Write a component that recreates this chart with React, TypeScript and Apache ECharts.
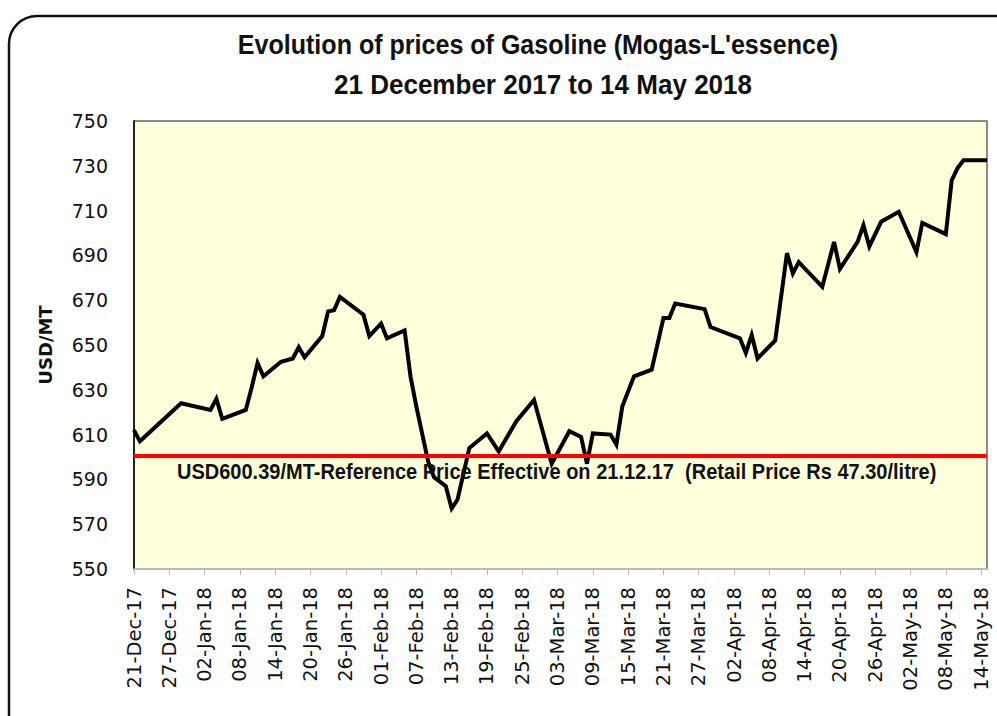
import React, { useEffect, useRef } from "react";
import * as echarts from "echarts";

const START = "2017-12-21";
const END = "2018-05-15";

const dates: string[] = [
  "2017-12-21", "2017-12-22", "2017-12-29", "2018-01-03", "2018-01-04", "2018-01-05",
  "2018-01-09", "2018-01-10", "2018-01-11", "2018-01-12", "2018-01-15", "2018-01-17",
  "2018-01-18", "2018-01-19", "2018-01-22", "2018-01-23", "2018-01-24", "2018-01-25",
  "2018-01-29", "2018-01-30", "2018-02-01", "2018-02-02", "2018-02-05", "2018-02-06",
  "2018-02-07", "2018-02-09", "2018-02-10", "2018-02-12", "2018-02-13", "2018-02-14",
  "2018-02-16", "2018-02-19", "2018-02-21", "2018-02-24", "2018-02-27", "2018-03-02",
  "2018-03-05", "2018-03-07", "2018-03-08", "2018-03-09", "2018-03-12", "2018-03-13",
  "2018-03-14", "2018-03-16", "2018-03-19", "2018-03-21", "2018-03-22", "2018-03-23",
  "2018-03-28", "2018-03-29", "2018-04-03", "2018-04-04", "2018-04-05", "2018-04-06",
  "2018-04-09", "2018-04-11", "2018-04-12", "2018-04-13", "2018-04-17", "2018-04-19",
  "2018-04-20", "2018-04-23", "2018-04-24", "2018-04-25", "2018-04-27", "2018-04-30",
  "2018-05-03", "2018-05-04", "2018-05-08", "2018-05-09", "2018-05-10", "2018-05-11",
  "2018-05-15",
];

const prices: number[] = [
  612, 607, 624, 621, 626, 617,
  621, 631, 642, 636, 642.5, 644,
  649, 644.5, 654, 665, 665.5, 671.5,
  663.5, 654, 659.5, 653, 656.5, 636,
  622.5, 598, 591, 587, 577, 581,
  604, 610.5, 602.5, 616, 625.5, 597,
  611.5, 609, 597, 610.5, 610, 605.5,
  622.5, 636, 639, 662, 662, 668.5,
  666, 658, 653, 646.5, 654.5, 644,
  652, 691, 682, 687, 676, 696,
  684, 696, 703.5, 694, 705, 709.5,
  691.5, 704.5, 699.5, 723.5, 729, 732.5,
  732.5,
];

const referencePrice = 600.39;
const referenceLabel =
  "USD600.39/MT-Reference Price Effective on 21.12.17  (Retail Price Rs 47.30/litre)";
const titleLine1 = "Evolution of prices of Gasoline (Mogas-L'essence)";
const titleLine2 = "21 December 2017 to 14 May 2018";
const yTicks = { min: 550, max: 750, step: 20 };
const xTickStepDays = 6;
const yAxisName = "USD/MT";

const MONTHS = ["Jan", "Feb", "Mar", "Apr", "May", "Jun", "Jul", "Aug", "Sep", "Oct", "Nov", "Dec"];
const DAY = 86400000;
const toUTC = (s: string) => {
  const [y, m, d] = s.split("-").map(Number);
  return Date.UTC(y, m - 1, d);
};
const startMs = toUTC(START);
const dayIndex = (s: string) => Math.round((toUTC(s) - startMs) / DAY);
const fmtDay = (v: number) => {
  const d = new Date(startMs + v * DAY);
  const dd = String(d.getUTCDate()).padStart(2, "0");
  const yy = String(d.getUTCFullYear() % 100).padStart(2, "0");
  return `${dd}-${MONTHS[d.getUTCMonth()]}-${yy}`;
};

const HEAD = "'Liberation Sans', Arial, sans-serif";
const BODY = "'DejaVu Sans', Verdana, sans-serif";

export default function App() {
  const ref = useRef<HTMLDivElement>(null);
  useEffect(() => {
    if (!ref.current) return;
    const chart = echarts.init(ref.current, null, { renderer: "svg" });
    const data = dates.map((d, i) => [dayIndex(d), prices[i]]);
    chart.setOption({
      animation: false,
      backgroundColor: "#ffffff",
      graphic: [
        {
          type: "rect",
          shape: { x: 9, y: 16, width: 1030, height: 760, r: 28 },
          style: { fill: "none", stroke: "#111", lineWidth: 2.5 },
          silent: true,
        },
        {
          type: "text",
          x: 538,
          y: 45,
          scaleX: 0.895,
          style: {
            text: titleLine1,
            fontFamily: HEAD,
            fontWeight: "bold",
            fontSize: 28,
            fill: "#111",
            align: "center",
            verticalAlign: "middle",
          },
        },
        {
          type: "text",
          x: 543,
          y: 85,
          scaleX: 0.93,
          style: {
            text: titleLine2,
            fontFamily: HEAD,
            fontWeight: "bold",
            fontSize: 28,
            fill: "#111",
            align: "center",
            verticalAlign: "middle",
          },
        },
        {
          type: "text",
          x: 177,
          y: 471,
          scaleX: 0.91,
          style: {
            text: referenceLabel,
            fontFamily: HEAD,
            fontWeight: "bold",
            fontSize: 22,
            fill: "#111",
            align: "left",
            verticalAlign: "middle",
          },
          z: 10,
        },
      ],
      grid: {
        left: 134,
        top: 121,
        right: 10,
        bottom: 147,
        show: true,
        backgroundColor: "#FFFFDC",
        borderColor: "#666",
        borderWidth: 1.5,
      },
      xAxis: {
        type: "value",
        min: 0,
        max: dayIndex(END),
        interval: xTickStepDays,
        axisLine: { show: true, lineStyle: { color: "#c8c8c8", width: 1.5 } },
        axisTick: { show: true, length: 6, lineStyle: { color: "#bbb" } },
        splitLine: { show: false },
        axisLabel: {
          rotate: 90,
          margin: 18,
          fontFamily: BODY,
          fontSize: 19.5,
          color: "#111",
          showMaxLabel: false,
          formatter: (v: number) => (v % xTickStepDays === 0 ? fmtDay(v) : ""),
        },
      },
      yAxis: {
        type: "value",
        min: yTicks.min,
        max: yTicks.max,
        interval: yTicks.step,
        name: yAxisName,
        nameLocation: "middle",
        nameGap: 80,
        nameTextStyle: {
          fontFamily: BODY,
          fontWeight: "bold",
          fontSize: 18,
          color: "#111",
        },
        axisLine: { show: true, lineStyle: { color: "#000", width: 1.5 } },
        axisTick: { show: false },
        splitLine: { show: false },
        axisLabel: {
          margin: 26,
          fontFamily: BODY,
          fontSize: 19,
          color: "#111",
        },
      },
      series: [
        {
          type: "line",
          data,
          showSymbol: false,
          symbol: "none",
          lineStyle: { color: "#000", width: 4, join: "miter" },
          z: 3,
          markLine: {
            silent: true,
            symbol: "none",
            label: { show: false },
            lineStyle: { color: "#FF0000", width: 4, type: "solid" },
            data: [{ yAxis: referencePrice }],
            z: 4,
          },
        },
      ],
    });
    return () => chart.dispose();
  }, []);
  return (
    <div
      ref={ref}
      style={{ position: "fixed", left: 0, top: 0, width: 997, height: 716, background: "#fff" }}
    />
  );
}
